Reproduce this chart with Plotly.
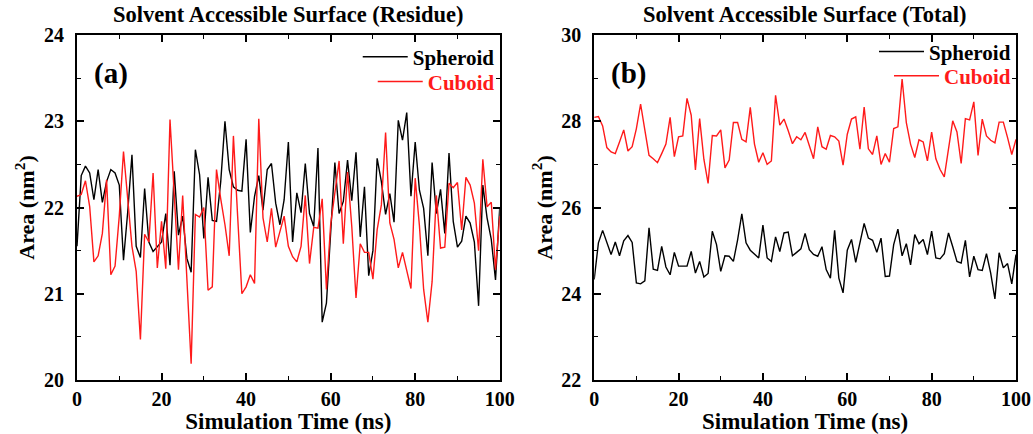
import plotly.graph_objects as go

time_ns = list(range(0, 101))

residue_spheroid = [
    21.55, 22.37, 22.48, 22.40, 22.09, 22.44, 22.06, 22.30, 22.44, 22.40,
    22.26, 21.39, 21.95, 22.61, 21.55, 21.42, 22.22, 21.60, 21.49, 21.55,
    21.60, 21.93, 21.33, 22.42, 21.68, 21.90, 21.41, 21.25, 22.67, 22.38,
    21.64, 22.35, 21.85, 21.84, 22.30, 23.00, 22.44, 22.24, 22.20, 22.19,
    22.79, 21.71, 22.13, 22.37, 21.97, 22.44, 22.51, 22.05, 21.80, 22.09,
    22.76, 21.60, 22.17, 21.94, 22.51, 21.93, 21.78, 22.69, 20.67, 20.89,
    21.75, 22.52, 21.93, 22.07, 22.55, 22.08, 22.64, 21.66, 22.24, 21.21,
    21.50, 22.57, 22.30, 21.92, 22.16, 21.83, 23.01, 22.78, 23.10, 22.13,
    22.76, 22.20, 21.99, 21.44, 22.52, 21.93, 22.21, 21.70, 22.63, 21.84,
    21.54, 21.61, 21.90, 21.82, 21.60, 20.86, 22.26, 21.88, 21.63, 21.16,
    22.00,
]

residue_cuboid = [
    22.13, 22.15, 22.31, 22.01, 21.37, 21.44, 21.70, 22.32, 21.22, 21.32,
    21.90, 22.65, 22.10, 21.55, 21.26, 20.47, 21.69, 21.60, 22.40, 21.30,
    21.84, 21.29, 23.02, 22.20, 21.28, 22.14, 21.20, 20.19, 21.92, 21.89,
    22.00, 21.04, 21.08, 22.44, 22.10, 21.80, 21.44, 22.83, 21.90, 21.00,
    21.08, 21.22, 21.12, 23.03, 21.88, 21.60, 21.99, 21.54, 21.72, 21.90,
    21.55, 21.43, 21.37, 21.55, 22.14, 21.35, 21.77, 21.76, 22.10, 21.05,
    21.80, 22.20, 22.54, 21.58, 22.41, 21.78, 20.95, 21.58, 21.48, 21.48,
    21.17, 21.74, 22.03, 22.87, 21.82, 21.63, 21.30, 21.48, 21.28, 21.06,
    22.34, 21.79, 21.05, 20.67, 21.14, 22.14, 21.53, 21.54, 22.28, 22.23,
    22.29, 21.74, 22.35, 22.26, 22.05, 21.50, 22.56, 22.01, 22.06, 21.28,
    21.90,
]

total_spheroid = [
    24.33, 25.18, 25.47, 25.19, 24.91, 25.20, 24.88, 25.23, 25.35, 25.19,
    24.25, 24.23, 24.30, 25.53, 24.57, 24.54, 25.10, 24.62, 24.44, 24.96,
    24.64, 24.64, 24.64, 24.98, 24.48, 24.75, 24.39, 24.47, 25.45, 25.14,
    24.52, 24.88, 24.87, 24.75, 25.25, 25.85, 25.18, 25.01, 24.93, 24.83,
    25.59, 24.83, 24.75, 25.32, 24.98, 25.41, 25.43, 24.88, 24.96, 25.04,
    25.40, 25.02, 24.91, 24.87, 25.09, 24.56, 24.36, 25.47, 24.36, 24.02,
    25.01, 25.26, 24.73, 25.22, 25.63, 25.29, 25.24, 24.96, 25.29, 24.40,
    24.41, 25.14, 25.50, 24.88, 25.16, 24.67, 25.37, 25.16, 25.26, 24.91,
    25.45, 24.83, 24.81, 24.93, 25.41, 25.09, 24.75, 24.71, 25.24, 24.39,
    24.87, 24.56, 24.54, 24.93, 24.48, 23.88, 24.95, 24.60, 24.70, 24.23,
    24.91,
]

total_cuboid = [
    28.09, 28.11, 27.89, 27.39, 27.29, 27.25, 27.52, 27.80, 27.31, 27.41,
    27.83, 28.40, 27.80, 27.21, 27.13, 27.04, 27.25, 27.47, 28.09, 27.18,
    27.64, 27.66, 28.53, 28.14, 26.87, 28.06, 27.12, 26.56, 27.67, 27.66,
    27.80, 26.92, 27.10, 27.97, 27.97, 27.58, 27.52, 28.32, 27.47, 27.05,
    27.27, 27.00, 27.08, 28.60, 27.91, 28.05, 27.78, 27.48, 27.64, 27.57,
    27.74, 27.44, 27.13, 27.87, 27.41, 27.35, 27.67, 27.64, 27.54, 26.98,
    27.70, 28.05, 28.10, 27.35, 28.33, 27.36, 27.23, 27.66, 27.00, 27.25,
    27.05, 27.83, 27.87, 28.98, 27.97, 27.47, 27.16, 27.57, 27.52, 27.08,
    27.75, 27.13, 26.88, 26.71, 27.36, 28.01, 27.75, 27.02, 28.06, 28.03,
    28.45, 27.21, 28.05, 27.66, 27.56, 27.50, 27.98, 27.98, 27.62, 27.23,
    27.58,
]

titles = ["Solvent Accessible Surface (Residue)", "Solvent Accessible Surface (Total)"]
panel_labels = ["(a)", "(b)"]
x_title = "Simulation Time (ns)"
y_title = "Area (nm<sup>2</sup>)"

FONT = "Liberation Serif"
RED = "#ff1a1a"

fig = go.Figure()

def add_pair(spher, cub, xa, ya, leg_s, leg_c):
    fig.add_trace(go.Scatter(x=time_ns, y=spher, mode="lines", name="Spheroid",
                             line=dict(color="black", width=1.4),
                             xaxis=xa, yaxis=ya, legend=leg_s))
    fig.add_trace(go.Scatter(x=time_ns, y=cub, mode="lines",
                             name=f'<span style="color:{RED}">Cuboid</span>',
                             line=dict(color=RED, width=1.4),
                             xaxis=xa, yaxis=ya, legend=leg_c))

add_pair(residue_spheroid, residue_cuboid, "x", "y", "legend", "legend2")
add_pair(total_spheroid, total_cuboid, "x2", "y2", "legend3", "legend4")

dom_left = [0.0, 0.4502]
dom_right = [0.5508, 1.0]

axis_common = dict(
    showline=True, linecolor="black", linewidth=1.8, mirror="ticks",
    ticks="inside", ticklen=7, tickwidth=1.6, tickcolor="black",
    showgrid=False, zeroline=False, automargin=False,
    tickfont=dict(family=FONT, size=20, color="black", weight="bold"),
)

xaxis_common = dict(axis_common, range=[0, 100], tickvals=[0, 20, 40, 60, 80, 100],
                    minor=dict(tickvals=[10, 30, 50, 70, 90], ticks="inside", ticklen=4,
                               tickwidth=1.4, tickcolor="black"),
                    title=dict(text=x_title, standoff=3,
                               font=dict(family=FONT, size=23, color="black", weight="bold")))

ytitle = dict(text=y_title, standoff=3,
              font=dict(family=FONT, size=22, color="black", weight="bold"))

def leg(x, y):
    return dict(x=x, y=y, xanchor="right", yanchor="middle", itemwidth=45,
                bgcolor="rgba(0,0,0,0)", borderwidth=0,
                font=dict(family=FONT, size=21, color="black", weight="bold"))

fig.update_layout(
    width=1033, height=434,
    margin=dict(l=77, r=17, t=35, b=54),
    plot_bgcolor="white", paper_bgcolor="white",
    xaxis=dict(xaxis_common, domain=dom_left, anchor="y"),
    xaxis2=dict(xaxis_common, domain=dom_right, anchor="y2"),
    yaxis=dict(axis_common, range=[20, 24], tickvals=[20, 21, 22, 23, 24], anchor="x",
               ticklabelstandoff=7,
               minor=dict(tickvals=[20.5, 21.5, 22.5, 23.5], ticks="inside", ticklen=4,
                          tickwidth=1.4, tickcolor="black"),
               title=ytitle),
    yaxis2=dict(axis_common, range=[22, 30], tickvals=[22, 24, 26, 28, 30], anchor="x2",
                ticklabelstandoff=7,
                minor=dict(tickvals=[23, 25, 27, 29], ticks="inside", ticklen=4,
                           tickwidth=1.4, tickcolor="black"),
                title=ytitle),
    legend=leg(0.4502, 0.936),
    legend2=leg(0.4502, 0.864),
    legend3=leg(1.0, 0.951),
    legend4=leg(1.0, 0.881),
    showlegend=True,
)

for i, (xa, ya) in enumerate([("x", "y"), ("x2", "y2")]):
    fig.add_annotation(text=titles[i], xref=f"{xa} domain", yref="paper",
                       x=0.5, y=1.0, yshift=6, xanchor="center", yanchor="bottom",
                       showarrow=False,
                       font=dict(family=FONT, size=22.5, color="black", weight="bold"))
    fig.add_annotation(text=panel_labels[i], xref=f"{xa} domain", yref=f"{ya} domain",
                       x=0.035, y=0.887, xanchor="left", yanchor="middle",
                       showarrow=False,
                       font=dict(family=FONT, size=29, color="black", weight="bold"))

fig.write_html("out.html", config={"displayModeBar": False},
               post_script="document.body.style.margin='0';document.body.style.overflow='hidden';")
